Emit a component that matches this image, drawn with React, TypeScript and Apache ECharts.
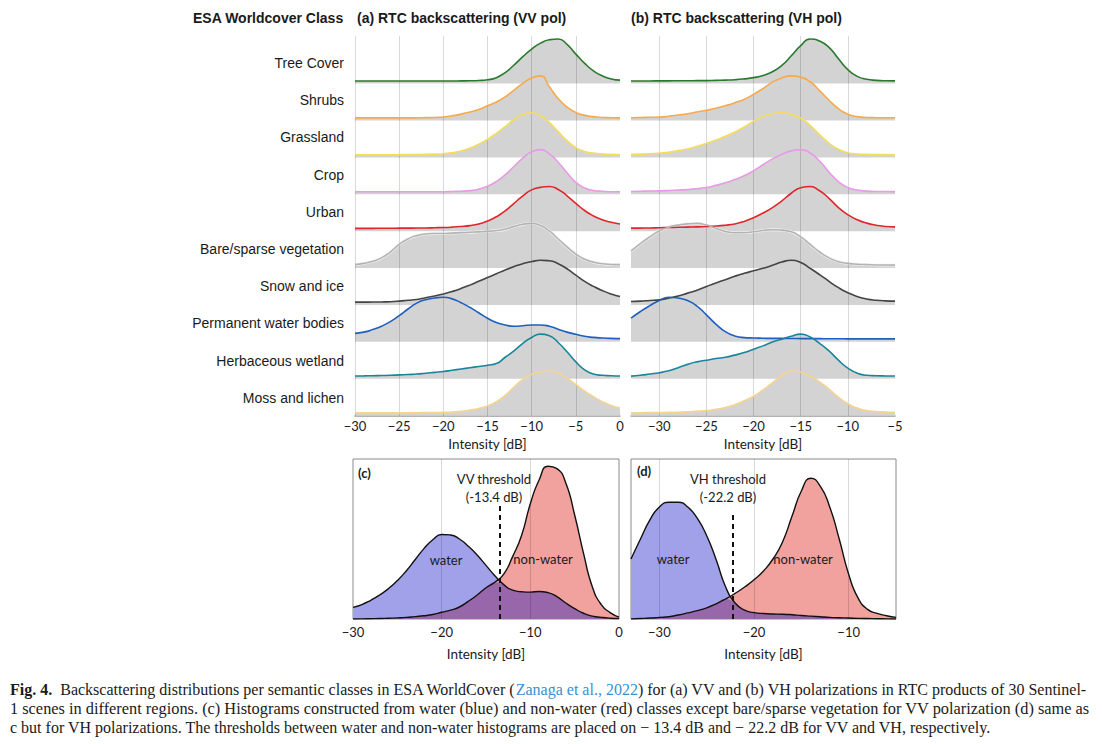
import React, { useEffect, useRef } from "react";
import * as echarts from "echarts";

// ---------------- data ----------------
const DB_VV = [-30, -29, -28, -27, -26, -25, -24, -23, -22, -21, -20, -19, -18, -17, -16, -15, -14, -13, -12, -11, -10, -9, -8, -7, -6, -5, -4, -3, -2, -1, 0];
const DB_VH = [-33, -32, -31, -30, -29, -28, -27, -26, -25, -24, -23, -22, -21, -20, -19, -18, -17, -16, -15, -14, -13, -12, -11, -10, -9, -8, -7, -6, -5];

const CLASSES = [
  "Tree Cover",
  "Shrubs",
  "Grassland",
  "Crop",
  "Urban",
  "Bare/sparse vegetation",
  "Snow and ice",
  "Permanent water bodies",
  "Herbaceous wetland",
  "Moss and lichen",
];
const CLASS_COLORS = ["#2a7a2e", "#f8a94a", "#f5dd5a", "#e79ae6", "#e0262a", "#b3b3b3", "#444444", "#1f5fbf", "#17869a", "#f6d48f"];

// (a) VV, relative density (peak = 1), sampled on DB_VV
const VV_TREE = [0, 0, 0, 0, 0, 0, 0, 0, 0, 0, 0, 0, 0.003, 0.006, 0.012, 0.03, 0.08, 0.2, 0.38, 0.58, 0.76, 0.9, 0.98, 1.0, 0.87, 0.64, 0.42, 0.24, 0.12, 0.05, 0.02];
const VV_SHRUBS = [0, 0, 0, 0, 0, 0, 0, 0.003, 0.006, 0.01, 0.02, 0.05, 0.09, 0.14, 0.2, 0.29, 0.38, 0.5, 0.66, 0.82, 0.95, 1.0, 0.74, 0.46, 0.26, 0.13, 0.06, 0.03, 0.01, 0.005, 0];
const VV_GRASS = [0, 0, 0, 0, 0, 0.003, 0.005, 0.008, 0.01, 0.015, 0.025, 0.05, 0.09, 0.16, 0.25, 0.37, 0.51, 0.67, 0.84, 0.96, 1, 0.93, 0.77, 0.55, 0.34, 0.17, 0.08, 0.04, 0.02, 0.01, 0.005];
const VV_CROP = [0, 0, 0, 0, 0, 0, 0, 0, 0, 0, 0, 0.005, 0.01, 0.025, 0.06, 0.13, 0.24, 0.4, 0.6, 0.8, 0.95, 1, 0.9, 0.7, 0.45, 0.22, 0.09, 0.03, 0.01, 0, 0];
const VV_URBAN = [0.005, 0.005, 0.006, 0.007, 0.008, 0.01, 0.011, 0.013, 0.015, 0.02, 0.025, 0.035, 0.05, 0.07, 0.11, 0.18, 0.28, 0.42, 0.6, 0.78, 0.92, 0.98, 1, 0.93, 0.78, 0.6, 0.43, 0.3, 0.21, 0.15, 0.11];
const VV_BARE = [0.02, 0.05, 0.1, 0.18, 0.32, 0.5, 0.63, 0.71, 0.75, 0.76, 0.76, 0.77, 0.78, 0.79, 0.8, 0.81, 0.83, 0.86, 0.93, 0.98, 1, 0.95, 0.82, 0.63, 0.44, 0.27, 0.15, 0.08, 0.04, 0.025, 0.02];
const VV_SNOW = [0.005, 0.006, 0.008, 0.01, 0.016, 0.03, 0.05, 0.07, 0.11, 0.15, 0.2, 0.26, 0.33, 0.41, 0.5, 0.59, 0.68, 0.77, 0.85, 0.92, 0.97, 1, 0.99, 0.92, 0.8, 0.65, 0.5, 0.38, 0.28, 0.2, 0.14];
const VV_WATER = [0.14, 0.17, 0.23, 0.31, 0.42, 0.56, 0.72, 0.86, 0.94, 0.98, 1, 0.96, 0.87, 0.76, 0.63, 0.5, 0.4, 0.34, 0.31, 0.32, 0.34, 0.34, 0.31, 0.24, 0.17, 0.12, 0.07, 0.045, 0.03, 0.02, 0.015];
const VV_WETLAND = [0.005, 0.007, 0.01, 0.014, 0.02, 0.03, 0.04, 0.05, 0.07, 0.09, 0.11, 0.14, 0.17, 0.2, 0.23, 0.26, 0.3, 0.45, 0.6, 0.78, 0.92, 1, 0.96, 0.8, 0.58, 0.34, 0.15, 0.05, 0.02, 0.01, 0.005];
const VV_MOSS = [0.003, 0.003, 0.004, 0.004, 0.005, 0.005, 0.006, 0.008, 0.01, 0.012, 0.016, 0.025, 0.04, 0.07, 0.11, 0.17, 0.27, 0.42, 0.62, 0.8, 0.92, 0.98, 1, 0.95, 0.83, 0.68, 0.52, 0.39, 0.27, 0.18, 0.12];

// (b) VH, relative density (peak = 1), sampled on DB_VH
const VH_TREE = [0, 0.001, 0.002, 0.003, 0.004, 0.005, 0.006, 0.008, 0.01, 0.015, 0.02, 0.03, 0.05, 0.08, 0.13, 0.22, 0.37, 0.6, 0.84, 1.0, 0.95, 0.8, 0.53, 0.27, 0.11, 0.04, 0.015, 0.005, 0.003];
const VH_SHRUBS = [0.005, 0.01, 0.015, 0.02, 0.04, 0.07, 0.1, 0.14, 0.18, 0.23, 0.29, 0.36, 0.44, 0.56, 0.7, 0.85, 0.95, 1, 0.97, 0.86, 0.65, 0.42, 0.22, 0.09, 0.03, 0.01, 0.005, 0.003, 0.002];
const VH_GRASS = [0.01, 0.015, 0.025, 0.04, 0.06, 0.1, 0.14, 0.2, 0.27, 0.35, 0.44, 0.54, 0.66, 0.8, 0.91, 0.98, 1, 0.96, 0.87, 0.7, 0.48, 0.28, 0.13, 0.05, 0.02, 0.01, 0.005, 0.003, 0.002];
const VH_CROP = [0.005, 0.01, 0.015, 0.02, 0.03, 0.04, 0.05, 0.07, 0.1, 0.15, 0.21, 0.29, 0.38, 0.5, 0.64, 0.78, 0.89, 0.97, 1, 0.92, 0.73, 0.47, 0.24, 0.1, 0.04, 0.015, 0.005, 0.003, 0.002];
const VH_URBAN = [0.01, 0.012, 0.015, 0.02, 0.025, 0.03, 0.035, 0.04, 0.05, 0.06, 0.08, 0.11, 0.17, 0.26, 0.37, 0.5, 0.66, 0.84, 0.97, 1.0, 0.9, 0.72, 0.5, 0.33, 0.21, 0.13, 0.08, 0.05, 0.04];
const VH_BARE = [0.34, 0.52, 0.68, 0.82, 0.91, 0.96, 0.99, 1, 0.96, 0.88, 0.81, 0.78, 0.78, 0.8, 0.83, 0.85, 0.84, 0.8, 0.68, 0.5, 0.32, 0.18, 0.09, 0.05, 0.03, 0.02, 0.012, 0.01, 0.008];
const VH_SNOW = [0.02, 0.03, 0.045, 0.06, 0.1, 0.15, 0.22, 0.29, 0.38, 0.46, 0.54, 0.62, 0.69, 0.75, 0.81, 0.88, 0.96, 1, 0.95, 0.81, 0.66, 0.5, 0.35, 0.23, 0.14, 0.08, 0.05, 0.035, 0.03];
const VH_WATER = [0.5, 0.66, 0.8, 0.92, 1.0, 0.98, 0.92, 0.79, 0.58, 0.36, 0.18, 0.08, 0.04, 0.03, 0.025, 0.02, 0.02, 0.018, 0.016, 0.015, 0.014, 0.013, 0.012, 0.01, 0.01, 0.01, 0.01, 0.01, 0.01];
const VH_WETLAND = [0, 0.02, 0.05, 0.08, 0.13, 0.2, 0.28, 0.34, 0.38, 0.42, 0.45, 0.5, 0.56, 0.64, 0.72, 0.81, 0.88, 0.95, 1, 0.93, 0.78, 0.6, 0.38, 0.19, 0.07, 0.02, 0.01, 0.005, 0.003];
const VH_MOSS = [0.005, 0.008, 0.01, 0.012, 0.015, 0.02, 0.03, 0.045, 0.06, 0.09, 0.13, 0.2, 0.29, 0.4, 0.55, 0.72, 0.89, 1, 0.97, 0.88, 0.74, 0.57, 0.38, 0.22, 0.12, 0.06, 0.035, 0.025, 0.02];

// (c) VV water / non-water histograms, sampled on DB_VV
const WATER_VV = [0.073, 0.09, 0.117, 0.15, 0.19, 0.24, 0.3, 0.37, 0.44, 0.495, 0.528, 0.525, 0.5, 0.455, 0.4, 0.335, 0.27, 0.215, 0.18, 0.17, 0.168, 0.172, 0.165, 0.14, 0.1, 0.065, 0.036, 0.018, 0.01, 0.005, 0.003];
const NONWATER_VV = [0, 0.001, 0.002, 0.003, 0.005, 0.007, 0.01, 0.015, 0.02, 0.028, 0.042, 0.055, 0.075, 0.11, 0.15, 0.195, 0.23, 0.28, 0.39, 0.52, 0.72, 0.87, 0.955, 0.94, 0.85, 0.65, 0.41, 0.2, 0.09, 0.04, 0.012];
// (d) VH water / non-water histograms, sampled on DB_VH
const WATER_VH = [0.375, 0.5, 0.62, 0.7, 0.73, 0.73, 0.7, 0.63, 0.52, 0.37, 0.2, 0.1, 0.055, 0.04, 0.034, 0.031, 0.03, 0.027, 0.022, 0.018, 0.014, 0.01, 0.008, 0.006, 0.004, 0.003, 0.002, 0.001, 0];
const NONWATER_VH = [0, 0.003, 0.006, 0.01, 0.014, 0.025, 0.038, 0.052, 0.07, 0.095, 0.125, 0.16, 0.2, 0.245, 0.3, 0.375, 0.48, 0.64, 0.8, 0.88, 0.83, 0.7, 0.5, 0.28, 0.13, 0.06, 0.035, 0.02, 0.01];

const VV_THRESHOLD = -13.4;
const VH_THRESHOLD = -22.2;

const TICKS_A = [-30, -25, -20, -15, -10, -5, 0];
const TICKS_B = [-30, -25, -20, -15, -10, -5];
const TICKS_C = [-30, -20, -10, 0];
const TICKS_D = [-30, -20, -10];
const GRID_A = [-30, -25, -20, -15, -10, -5];
const GRID_B = [-30, -25, -20, -15, -10];
const GRID_C = [-20, -10];
const GRID_D = [-30, -20, -10];

const VV_ROWS = [VV_TREE, VV_SHRUBS, VV_GRASS, VV_CROP, VV_URBAN, VV_BARE, VV_SNOW, VV_WATER, VV_WETLAND, VV_MOSS];
const VH_ROWS = [VH_TREE, VH_SHRUBS, VH_GRASS, VH_CROP, VH_URBAN, VH_BARE, VH_SNOW, VH_WATER, VH_WETLAND, VH_MOSS];

// ---------------- style ----------------
const SANS = '"Liberation Sans", Arial, sans-serif';
const CAL = 'Lato, "Open Sans", sans-serif';
const SERIF = '"Liberation Serif", "DejaVu Serif", serif';
const FILL = "#d3d3d3";
const GRID_COLOR = "rgba(0,0,0,0.15)";
const WATER_FILL = "#a1a1e9";
const NONWATER_FILL = "#f1a29f";
const OVERLAP_FILL = "#9866aa";
const PEAK = 1.14;
const BASE_OFF = 0.08;
const STRIP = 0.07;
const SMOOTH = 0.55;
const TEXT = "#1a1a1a";

const minus = (v: number) => (v < 0 ? "\u2212" + Math.abs(v) : String(v));

function ridge(panel: number, xs: number[], rows: number[][]) {
  const out: any[] = [];
  rows.forEach((vals, k) => {
    const base = rows.length - 1 - k + BASE_OFF;
    const data = xs.map((x, i) => [x, base + vals[i] * PEAK]);
    out.push({
      type: "line", xAxisIndex: panel, yAxisIndex: panel, data, smooth: SMOOTH, symbol: "none", silent: true,
      lineStyle: { width: 0, opacity: 0 }, areaStyle: { color: FILL, opacity: 1, origin: base - STRIP }, z: 2,
    });
    if (k === 5) {
      out.push({
        type: "line", xAxisIndex: panel, yAxisIndex: panel, data, smooth: SMOOTH, symbol: "none", silent: true,
        lineStyle: { width: 2.8, color: "#f4f4f4" }, z: 4,
      });
    }
    out.push({
      type: "line", xAxisIndex: panel, yAxisIndex: panel, data, smooth: SMOOTH, symbol: "none", silent: true,
      lineStyle: { width: 1.6, color: CLASS_COLORS[k] }, z: 5,
    });
  });
  return out;
}

function gridLines(panel: number, ticks: number[], z: number) {
  return {
    type: "line", xAxisIndex: panel, yAxisIndex: panel, data: [], silent: true, symbol: "none", z,
    markLine: {
      silent: true, symbol: ["none", "none"], label: { show: false }, emphasis: { disabled: true },
      lineStyle: { color: GRID_COLOR, width: 1, type: "solid" },
      data: ticks.map((t) => ({ xAxis: t })),
    },
  };
}

function histo(panel: number, xs: number[], water: number[], non: number[], thr: number, thrTop: number) {
  const wd = xs.map((x, i) => [x, water[i]]);
  const nd = xs.map((x, i) => [x, non[i]]);
  const od = xs.map((x, i) => [x, Math.min(water[i], non[i])]);
  const common = { type: "line", xAxisIndex: panel, yAxisIndex: panel, smooth: SMOOTH, symbol: "none", silent: true };
  return [
    { ...common, data: wd, lineStyle: { width: 0, opacity: 0 }, areaStyle: { color: WATER_FILL, opacity: 1 }, z: 2 },
    { ...common, data: nd, lineStyle: { width: 0, opacity: 0 }, areaStyle: { color: NONWATER_FILL, opacity: 1 }, z: 2 },
    { ...common, data: od, lineStyle: { width: 0, opacity: 0 }, areaStyle: { color: OVERLAP_FILL, opacity: 1 }, z: 3 },
    { ...common, data: wd, lineStyle: { width: 1.4, color: "#111" }, z: 5 },
    { ...common, data: nd, lineStyle: { width: 1.4, color: "#111" }, z: 5 },
    {
      type: "line", xAxisIndex: panel, yAxisIndex: panel, data: [], silent: true, symbol: "none", z: 6,
      markLine: {
        silent: true, symbol: ["none", "none"], label: { show: false }, emphasis: { disabled: true },
        lineStyle: { color: "#111", width: 2, type: [5, 4] },
        data: [[{ coord: [thr, 0] }, { coord: [thr, thrTop] }]],
      },
    },
  ];
}

function xAxis(grid: number, min: number, max: number, ticks: number[], interval: number | undefined, margin: number, nameGap: number, line: boolean) {
  const ax: any = {
    type: "value", gridIndex: grid, min, max,
    axisLine: { show: line, lineStyle: { color: "#9a9a9a", width: 1.5 } },
    axisTick: { show: false },
    splitLine: { show: false },
    axisLabel: { formatter: minus, margin, fontSize: 13, color: TEXT, fontFamily: CAL, customValues: ticks, showMinLabel: true, showMaxLabel: true },
    name: "Intensity [dB]", nameLocation: "middle", nameGap,
    nameTextStyle: { fontSize: 13.5, color: TEXT, fontFamily: CAL },
  };
  if (interval !== undefined) ax.interval = interval;
  return ax;
}

function txt(x: number, y: number, text: string, opts: any = {}) {
  return {
    type: "text", x, y, silent: true, z: 10,
    style: {
      text, fill: opts.fill || TEXT, fontSize: opts.fontSize || 13, fontFamily: opts.fontFamily || SANS,
      fontWeight: opts.fontWeight || "normal", align: opts.align || "left", verticalAlign: "middle",
      rich: opts.rich,
    },
  };
}

export default function App() {
  const ref = useRef<HTMLDivElement>(null);
  useEffect(() => {
    if (!ref.current) return;
    const chart = echarts.init(ref.current, undefined, { renderer: "svg" });
    const labelYs = CLASSES.map((_, k) => 63 + k * 37.2);
    const CAP = 16;
    const graphics: any[] = [
      txt(193, 18, "ESA Worldcover Class", { fontWeight: "bold", fontSize: 14 }),
      txt(357, 18, "(a) RTC backscattering (VV pol)", { fontWeight: "bold", fontSize: 14 }),
      txt(631, 18, "(b) RTC backscattering (VH pol)", { fontWeight: "bold", fontSize: 14 }),
      ...CLASSES.map((c, k) => txt(344, labelYs[k], c, { align: "right", fontSize: 14 })),
      txt(358, 473, "(c)", { fontWeight: "bold", fontFamily: CAL }),
      txt(494, 479, "VV threshold", { align: "center", fontFamily: CAL }),
      txt(494, 497, "(-13.4 dB)", { align: "center", fontFamily: CAL }),
      txt(446, 560, "water", { align: "center", fontFamily: CAL }),
      txt(543, 559, "non-water", { align: "center", fontFamily: CAL }),
      txt(637, 471, "(d)", { fontWeight: "bold", fontFamily: CAL }),
      txt(728, 479, "VH threshold", { align: "center", fontFamily: CAL }),
      txt(728, 497, "(-22.2 dB)", { align: "center", fontFamily: CAL }),
      txt(673, 559, "water", { align: "center", fontFamily: CAL }),
      txt(803, 559, "non-water", { align: "center", fontFamily: CAL }),
      txt(10, 689, "{b|Fig. 4.}  Backscattering distributions per semantic classes in ESA WorldCover ({l|Zanaga et al., 2022}) for (a) VV and (b) VH polarizations in RTC products of 30 Sentinel-", {
        fontFamily: SERIF, fontSize: CAP,
        rich: {
          b: { fontWeight: "bold", fontFamily: SERIF, fontSize: CAP, fill: TEXT },
          l: { fontFamily: SERIF, fontSize: CAP, fill: "#3a8fd3" },
        },
      }),
      txt(10, 708, "1 scenes in different regions. (c) Histograms constructed from water (blue) and non-water (red) classes except bare/sparse vegetation for VV polarization (d) same as", { fontFamily: SERIF, fontSize: 16.35 }),
      txt(10, 727, "c but for VH polarizations. The thresholds between water and non-water histograms are placed on \u2212 13.4 dB and \u2212 22.2 dB for VV and VH, respectively.", { fontFamily: SERIF, fontSize: CAP }),
    ];

    const option: any = {
      animation: false,
      backgroundColor: "#ffffff",
      grid: [
        { left: 355, top: 36, width: 265, height: 380 },
        { left: 631, top: 36, width: 264, height: 380 },
        { left: 353, top: 459, width: 266, height: 160, show: true, borderColor: "#8a8a8a", borderWidth: 1 },
        { left: 631, top: 459, width: 265, height: 160, show: true, borderColor: "#8a8a8a", borderWidth: 1 },
      ],
      xAxis: [
        xAxis(0, -30, 0, TICKS_A, 5, 3, 21, true),
        xAxis(1, -33, -5, TICKS_B, undefined, 3, 21, true),
        xAxis(2, -30, 0, TICKS_C, 10, 6, 28, false),
        xAxis(3, -33, -5, TICKS_D, undefined, 6, 28, false),
      ],
      yAxis: [
        { type: "value", gridIndex: 0, min: 0, max: 10.3, show: false },
        { type: "value", gridIndex: 1, min: 0, max: 10.3, show: false },
        { type: "value", gridIndex: 2, min: 0, max: 1, show: false },
        { type: "value", gridIndex: 3, min: 0, max: 1, show: false },
      ],
      series: [
        ...ridge(0, DB_VV, VV_ROWS),
        ...ridge(1, DB_VH, VH_ROWS),
        gridLines(0, GRID_A, 3),
        gridLines(1, GRID_B, 3),
        gridLines(2, GRID_C, 1),
        gridLines(3, GRID_D, 1),
        ...histo(2, DB_VV, WATER_VV, NONWATER_VV, VV_THRESHOLD, 0.71),
        ...histo(3, DB_VH, WATER_VH, NONWATER_VH, VH_THRESHOLD, 0.66),
      ],
      graphic: graphics,
    };
    chart.setOption(option);
    return () => chart.dispose();
  }, []);
  return <div ref={ref} style={{ position: "absolute", left: 0, top: 0, width: 1102, height: 744, background: "#fff" }} />;
}
